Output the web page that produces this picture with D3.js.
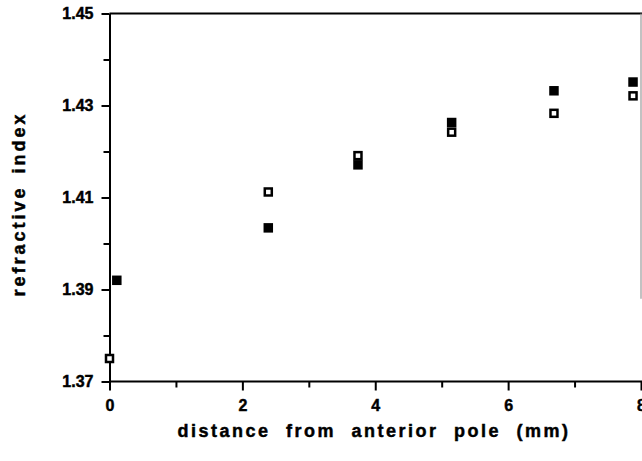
<!DOCTYPE html>
<html>
<head>
<meta charset="utf-8">
<script src="https://cdn.jsdelivr.net/npm/d3@7"></script>
<style>
  html, body { margin: 0; padding: 0; background: #fff; }
  svg { display: block; }
</style>
</head>
<body>
<svg id="chart" width="642" height="461"></svg>
<script>
// ---- data ----
const openDistance   = [0, 2.39, 3.74, 5.15, 6.69, 7.88];
const openIndex      = [1.375, 1.4112, 1.4191, 1.4242, 1.4283, 1.4321];
const filledDistance = [0.11, 2.39, 3.74, 5.15, 6.69, 7.88];
const filledIndex    = [1.392, 1.4034, 1.4171, 1.4263, 1.4332, 1.4351];
const xTickLabels = [0, 2, 4, 6, 8];
const yTickLabels = [1.37, 1.39, 1.41, 1.43, 1.45];
const xMinorTicks = [1, 3, 5, 7];
const yMinorTicks = [1.38, 1.40, 1.42, 1.44];
const xTitle = "distance from anterior pole (mm)";
const yTitle = "refractive index";

// ---- layout ----
const FONT = "Liberation Sans, Arial, Helvetica, sans-serif";
const svg = d3.select("#chart");
const x = d3.scaleLinear().domain([0, 8]).range([109.5, 641]);
const y = d3.scaleLinear().domain([1.37, 1.45]).range([381.5, 13.5]);

// frame: top and right
svg.append("line").attr("x1", x(0)).attr("x2", 642).attr("y1", y(1.45)).attr("y2", y(1.45))
  .attr("stroke", "#000").attr("stroke-width", 2);
svg.append("line").attr("x1", x(8)).attr("x2", x(8)).attr("y1", y(1.45)).attr("y2", y(1.388))
  .attr("stroke", "#999").attr("stroke-width", 1.2);

function styleText(sel, size) {
  sel.attr("font-family", FONT).attr("font-weight", "bold").attr("font-size", size)
    .attr("fill", "#000").attr("stroke", "#000").attr("stroke-width", 0.45);
}

// x axis (major)
const xAxisMajor = d3.axisBottom(x).tickValues(xTickLabels).tickFormat(d3.format("d"))
  .tickSizeInner(9).tickSizeOuter(0).tickPadding(9);
const gx = svg.append("g").attr("transform", `translate(0,${y(1.37)})`).call(xAxisMajor);
gx.attr("font-family", null).attr("font-size", null);
gx.select(".domain").attr("d", `M${x(0)},0H642`).attr("stroke-width", 2);
gx.selectAll(".tick line").attr("stroke-width", 2);
styleText(gx.selectAll(".tick text"), 16);
const gxm = svg.append("g").attr("transform", `translate(0,${y(1.37)})`)
  .call(d3.axisBottom(x).tickValues(xMinorTicks).tickFormat("").tickSizeInner(6).tickSizeOuter(0));
gxm.select(".domain").remove();
gxm.selectAll(".tick line").attr("stroke-width", 2);

// y axis (major)
const yAxisMajor = d3.axisLeft(y).tickValues(yTickLabels).tickFormat(d3.format(".2f"))
  .tickSizeInner(8).tickSizeOuter(0).tickPadding(8);
const gy = svg.append("g").attr("transform", `translate(${x(0)},0)`).call(yAxisMajor);
gy.attr("font-family", null).attr("font-size", null);
gy.select(".domain").attr("stroke-width", 2);
gy.selectAll(".tick line").attr("stroke-width", 2);
styleText(gy.selectAll(".tick text"), 16);
const gym = svg.append("g").attr("transform", `translate(${x(0)},0)`)
  .call(d3.axisLeft(y).tickValues(yMinorTicks).tickFormat("").tickSizeInner(6).tickSizeOuter(0));
gym.select(".domain").remove();
gym.selectAll(".tick line").attr("stroke-width", 2);

// axis titles
const xt = svg.append("text").attr("x", 374).attr("y", 437).attr("text-anchor", "middle")
  .style("letter-spacing", "2.5px").style("word-spacing", "8px").text(xTitle);
styleText(xt, 18);
const yt = svg.append("text").attr("transform", "translate(25,204) rotate(-90)").attr("text-anchor", "middle")
  .style("letter-spacing", "3px").style("word-spacing", "4px").text(yTitle);
styleText(yt, 18);

// points
const openPts = openDistance.map((d, i) => ({ d, v: openIndex[i] }));
const filledPts = filledDistance.map((d, i) => ({ d, v: filledIndex[i] }));
const fs = 9.5;
svg.append("g").selectAll("rect").data(filledPts).join("rect")
  .attr("x", p => x(p.d) - fs / 2).attr("y", p => y(p.v) - fs / 2)
  .attr("width", fs).attr("height", fs).attr("fill", "#000");
const os = 7;
svg.append("g").selectAll("rect").data(openPts).join("rect")
  .attr("x", p => x(p.d) - os / 2).attr("y", p => y(p.v) - os / 2)
  .attr("width", os).attr("height", os).attr("fill", "#fff")
  .attr("stroke", "#000").attr("stroke-width", 2.5);
</script>
</body>
</html>
